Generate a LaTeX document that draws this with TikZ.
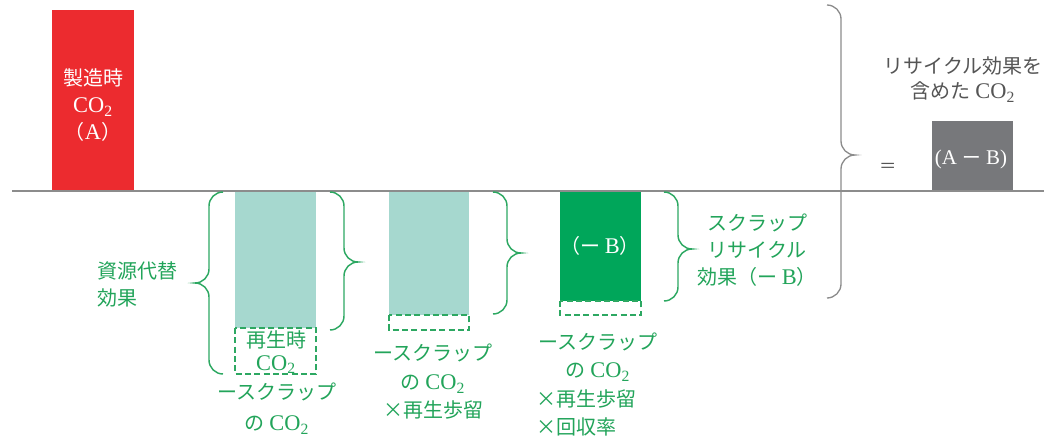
\documentclass[tikz,border=0pt]{standalone}
\usepackage{fontspec}
\setmainfont{Liberation Serif}
\newfontfamily\jp{Noto Sans CJK JP}
\newfontfamily\latf{Liberation Serif}[Scale=1.12]
\definecolor{cred}{HTML}{EC2B2F}
\definecolor{cteal}{HTML}{A6D8CF}
\definecolor{cdgreen}{HTML}{00A65A}
\definecolor{ctext}{HTML}{22A45A}
\definecolor{cbrace}{HTML}{2DA862}
\definecolor{cgbox}{HTML}{77787B}
\definecolor{caxis}{HTML}{8C8C8C}
\definecolor{cgtext}{HTML}{555555}
\newcommand\lat[1]{{\latf #1}}
\newcommand\cotwo{\lat{CO\textsubscript{2}}}
% brace: [style] x0 ytop ybot ytip dir
\newcommand\mybrace[6][]{%
\draw[#1] (#2,#3) .. controls ({#2+#6*7.7},#3) and ({#2+#6*14},{#3+6.3}) .. ({#2+#6*14},{#3+14})
 -- ({#2+#6*14},{#5-14}) .. controls ({#2+#6*14},{#5-6.3}) and ({#2+#6*20.3},#5) .. ({#2+#6*28},#5)
 .. controls ({#2+#6*20.3},#5) and ({#2+#6*14},{#5+6.3}) .. ({#2+#6*14},{#5+14})
 -- ({#2+#6*14},{#4-14}) .. controls ({#2+#6*14},{#4-6.3}) and ({#2+#6*7.7},#4) .. (#2,#4);}
\tikzset{
  txt/.style={inner sep=0pt, align=center, font=\jp\fontsize{15}{#1}\selectfont},
  txt/.default=20.25pt,
  gtxt/.style={txt=#1, text=ctext},
  gtxt/.default=20.25pt,
  wtxt/.style={txt=#1, text=white},
  wtxt/.default=20.25pt,
  dbox/.style={draw=cbrace, dashed, dash pattern=on 4.5pt off 2.5pt, line width=1.1pt},
  gbr/.style={draw=cbrace, line width=1.1pt},
  graybr/.style={draw=caxis, line width=1pt},
}
\begin{document}
\begin{tikzpicture}[x=0.75pt,y=-0.75pt]
\useasboundingbox (0,0) rectangle (1056,436);
% bars
\fill[cred] (52,10) rectangle (134,191);
\fill[cteal] (235,191) rectangle (316,328);
\fill[cteal] (389,191) rectangle (469,315);
\fill[cdgreen] (560,191) rectangle (641,301);
\fill[cgbox] (932,121) rectangle (1013,191);
% dashed boxes
\draw[dbox] (235,328) rectangle (316,374);
\draw[dbox] (389,315) rectangle (469,330);
\draw[dbox] (560,301) rectangle (641,315);
% axis
\coordinate (axL) at (12,191);
\coordinate (axR) at (1044,191);
\draw[caxis, line width=1.1pt] (axL) -- (axR);
% braces
\mybrace[gbr]{223}{192}{374}{283}{-1}
\mybrace[gbr]{330}{192}{330}{262}{1}
\mybrace[gbr]{493}{192}{314}{253}{1}
\mybrace[gbr]{664}{192}{301}{249}{1}
\mybrace[graybr]{827}{5}{298}{155}{1}
% texts
\node[wtxt=20.25pt] (tA) at (93,105) {製造時\\\cotwo\\（\lat{A}）};
\node[gtxt=17.25pt] (tRe) at (276,352) {再生時\\\cotwo};
\node[gtxt=23.25pt] (tS1) at (277,409) {ースクラップ\\の \cotwo};
\node[gtxt=21.4pt] (tS2) at (433,382) {ースクラップ\\の \cotwo\\×再生歩留};
\node[gtxt=21pt] (tS3a) at (598,357) {ースクラップ\\の \cotwo};
\node[gtxt=21pt, anchor=west, align=left] (tS3b) at (536,413) {×再生歩留\\×回収率};
\node[gtxt=20.25pt, anchor=west, align=left] (tSG) at (97,284) {資源代替\\効果};
\node[gtxt=20.25pt] (tSR) at (757,250) {スクラップ\\リサイクル\\効果（ー \lat{B}）};
\node[wtxt] (tB) at (600,246) {（ー \lat{B}）};
\node[txt=18.75pt, text=cgtext] (tT) at (963,80) {リサイクル効果を\\含めた \cotwo};
\node[txt, text=cgtext, font=\jp\fontsize{13}{15}\selectfont] (tEq) at (888,168) {＝};
\node[txt, text=white, font=\latf\fontsize{14}{18}\selectfont] (tAB) at (971,159) {(A {\jp ー} B)};
\end{tikzpicture}
\end{document}
